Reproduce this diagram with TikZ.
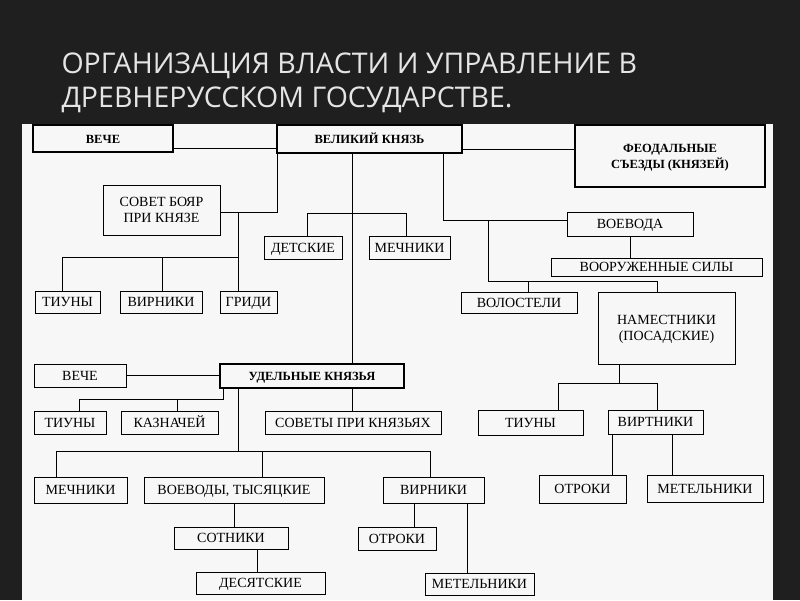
\documentclass[tikz,border=0pt]{standalone}
\usepackage{fontspec}
\setmainfont{Liberation Serif}
\newfontfamily\titlefont{Open Sans}
\newcommand{\bx}[7][]{\node[bx,#1,minimum width={(#5-#3)*1pt},minimum height={(#6-#4)*1pt}] (#2) at ({(#3+#5)/2},{(#4+#6)/2}) {#7};}
\begin{document}
\begin{tikzpicture}[x=1pt,y=-1pt,
  bx/.style={draw,line width=0.8pt,inner sep=1pt,text height=9.5pt,text depth=0pt,align=center,font=\fontsize{14}{16}\selectfont},
  thick box/.style={line width=2.2pt,font=\bfseries\fontsize{12.5}{16}\selectfont},
  two/.style={text height=25pt},
  ln/.style={line width=0.8pt}]
\useasboundingbox (0,0) rectangle (800,600);
\fill[black!88] (0,0) rectangle (800,600);
\fill[gray!6] (22,124) rectangle (773,600);
\node[anchor=west,text=white!90!black,font=\titlefont\fontsize{28.5}{34}\selectfont,align=left] (title) at (58,83)
 {ОРГАНИЗАЦИЯ ВЛАСТИ И УПРАВЛЕНИЕ В\\ДРЕВНЕРУССКОМ ГОСУДАРСТВЕ.};
% top row
\bx[thick box]{veche}{33}{125}{173}{152}{ВЕЧЕ}
\bx[thick box]{vk}{277}{125}{462}{153}{ВЕЛИКИЙ КНЯЗЬ}
\bx[thick box,two]{feod}{575}{125}{765}{187}{ФЕОДАЛЬНЫЕ\\СЪЕЗДЫ (КНЯЗЕЙ)}
\bx[two]{sovet}{103}{185}{220}{235}{СОВЕТ БОЯР\\ПРИ КНЯЗЕ}
\bx{tiu1}{35}{291}{100}{313}{ТИУНЫ}
\bx{vir1}{120}{291}{202}{313}{ВИРНИКИ}
\bx{gridi}{220}{291}{277}{313}{ГРИДИ}
\bx{det}{264}{236}{342}{259}{ДЕТСКИЕ}
\bx{mech1}{369}{236}{450}{259}{МЕЧНИКИ}
\bx{voev}{567}{212}{693}{236}{ВОЕВОДА}
\bx{vs}{551}{258}{762}{276}{ВООРУЖЕННЫЕ СИЛЫ}
\bx{vol}{461}{292}{577}{313}{ВОЛОСТЕЛИ}
\bx[two]{nam}{598}{292}{735}{364}{НАМЕСТНИКИ\\(ПОСАДСКИЕ)}
\bx{tiu3}{478}{410}{583}{435}{ТИУНЫ}
\bx{vir3}{608}{410}{703}{434}{ВИРТНИКИ}
\bx{otr3}{539}{475}{626}{503}{ОТРОКИ}
\bx{met3}{647}{475}{763}{502}{МЕТЕЛЬНИКИ}
% udelnye
\bx{veche2}{34}{364}{126}{387}{ВЕЧЕ}
\bx[thick box]{ud}{220}{364}{404}{388}{УДЕЛЬНЫЕ КНЯЗЬЯ}
\bx{tiu2}{34}{411}{106}{434}{ТИУНЫ}
\bx{kaz}{121}{411}{218}{434}{КАЗНАЧЕЙ}
\bx{sovety}{265}{411}{441}{434}{СОВЕТЫ ПРИ КНЯЗЬЯХ}
\bx{mech2}{34}{477}{127}{503}{МЕЧНИКИ}
\bx{voevody}{144}{477}{324}{503}{ВОЕВОДЫ, ТЫСЯЦКИЕ}
\bx{vir2}{383}{477}{484}{503}{ВИРНИКИ}
\bx{sot}{174}{527}{288}{549}{СОТНИКИ}
\bx{des}{196}{572}{325}{594}{ДЕСЯТСКИЕ}
\bx{otr2}{358}{527}{436}{550}{ОТРОКИ}
\bx{met2}{425}{573}{534}{595}{МЕТЕЛЬНИКИ}
% junctions
\coordinate (jA) at (238,212); \coordinate (jB) at (277,212);
\coordinate (jC) at (238,257); \coordinate (jD) at (62,257); \coordinate (jE) at (162,257);
\coordinate (jF) at (307,213); \coordinate (jG) at (406,213);
\coordinate (jH) at (443,220); \coordinate (jI) at (488,220); \coordinate (jJ) at (488,281);
\coordinate (jK) at (657,281); \coordinate (jL) at (528,281);
\coordinate (jM) at (619,383); \coordinate (jN) at (558,383); \coordinate (jO) at (657,383);
\coordinate (jP) at (223,399); \coordinate (jQ) at (79,399); \coordinate (jR) at (177,399);
\coordinate (jS) at (238,451); \coordinate (jT) at (56,451); \coordinate (jU) at (262,451); \coordinate (jV) at (430,451);
\coordinate (jX) at (352,300); \coordinate (jY) at (612,450); \coordinate (jZ) at (672,450);
% connectors
\draw[ln] (veche.east |- 0,148) -- (vk.west |- 0,148);
\draw[ln] (vk.east |- 0,149) -- (feod.west |- 0,149);
\draw[ln] (sovet.east |- jA) -- (jB) -- (vk.south west -| jB);
\draw[ln] (jA) -- (gridi.north -| jA);
\draw[ln] (jD) -- (jC);
\draw[ln] (jD) -- (tiu1.north -| jD);
\draw[ln] (jE) -- (vir1.north -| jE);
\draw[ln] (jF) -- (jG);
\draw[ln] (jF) -- (det.north -| jF);
\draw[ln] (jG) -- (mech1.north -| jG);
\draw[ln] (vk.south -| jX) -- (ud.north -| jX);
\draw[ln] (vk.south -| jH) -- (jH) -- (voev.west |- jH);
\draw[ln] (jI) -- (jJ) -- (jK) -- (nam.north -| jK);
\draw[ln] (jL) -- (vol.north -| jL);
\draw[ln] (voev.south) -- (vs.north -| voev.south);
\draw[ln] (nam.south -| jM) -- (jM);
\draw[ln] (jN) -- (jO);
\draw[ln] (jN) -- (tiu3.north -| jN);
\draw[ln] (jO) -- (vir3.north -| jO);
\draw[ln] (vir3.south -| jY) -- (otr3.north -| jY);
\draw[ln] (vir3.south -| jZ) -- (met3.north -| jZ);
\draw[ln] (veche2.east) -- (ud.west |- veche2.east);
\draw[ln] (ud.south -| jP) -- (jP) -- (jQ) -- (tiu2.north -| jQ);
\draw[ln] (jR) -- (kaz.north -| jR);
\draw[ln] (ud.south -| jX) -- (sovety.north -| jX);
\draw[ln] (ud.south -| jS) -- (jS);
\draw[ln] (jT) -- (jV);
\draw[ln] (jT) -- (mech2.north -| jT);
\draw[ln] (jU) -- (voevody.north -| jU);
\draw[ln] (jV) -- (vir2.north -| jV);
\coordinate (k1) at (234,510); \coordinate (k2) at (257,560);
\coordinate (k3) at (414,510); \coordinate (k4) at (467,540);
\draw[ln] (voevody.south -| k1) -- (sot.north -| k1);
\draw[ln] (sot.south -| k2) -- (des.north -| k2);
\draw[ln] (vir2.south -| k3) -- (otr2.north -| k3);
\draw[ln] (vir2.south -| k4) -- (met2.north -| k4);
\end{tikzpicture}
\end{document}
